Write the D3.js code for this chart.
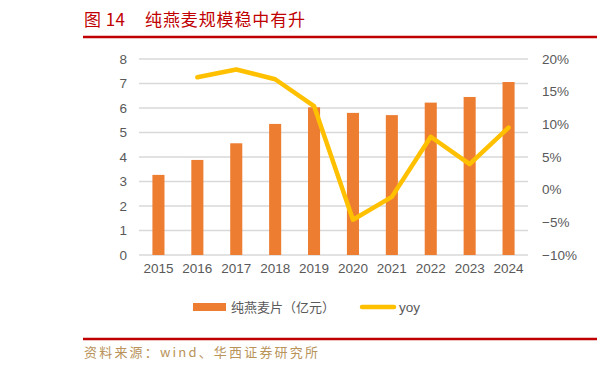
<!DOCTYPE html>
<html><head><meta charset="utf-8">
<script src="https://cdn.jsdelivr.net/npm/d3@7"></script>
<style>body{margin:0;background:#fff;}svg{display:block;}</style>
</head><body>
<svg id="c" width="597" height="371"></svg>
<script>
const categories = ["2015","2016","2017","2018","2019","2020","2021","2022","2023","2024"];
const barValues = [3.27,3.88,4.56,5.35,6.03,5.80,5.71,6.22,6.45,7.06];
const yoyValues = [null,17.2,18.4,16.9,12.8,-4.6,-1.1,8.1,3.9,9.5];
const leftTicks = [0,1,2,3,4,5,6,7,8];
const rightTicks = [-10,-5,0,5,10,15,20];
const barName = "纯燕麦片（亿元）";
const lineName = "yoy";
const title = "图 14";
const subtitle = "纯燕麦规模稳中有升";
const source = "资料来源：wind、华西证券研究所";

const svg = d3.select("#c");
const cjk = "'Noto Sans CJK SC','Noto Sans',sans-serif";
const latin = "'Liberation Sans','DejaVu Sans',sans-serif";
const L=139, R=528, T=59, B=255;
const x = d3.scaleBand().domain(categories).range([L,R]).paddingInner(0.69).paddingOuter(0.345);
const yL = d3.scaleLinear().domain([0,8]).range([B,T]);
const yR = d3.scaleLinear().domain([-10,20]).range([B,T]);

// title
svg.append("text").attr("x",84).attr("y",26).attr("fill","#c00000").attr("font-family",cjk).attr("font-size",17).attr("textLength",41).text(title);
svg.append("text").attr("x",145).attr("y",26).attr("fill","#c00000").attr("font-family",cjk).attr("font-size",17).attr("textLength",160).text(subtitle);
svg.append("line").attr("x1",83).attr("x2",597).attr("y1",37).attr("y2",37).attr("stroke","#c00000").attr("stroke-width",2.5);

// grid
svg.append("g").selectAll("line").data(leftTicks).join("line")
  .attr("x1",L).attr("x2",R).attr("y1",d=>yL(d)).attr("y2",d=>yL(d))
  .attr("stroke","#d9d9d9").attr("stroke-width",1.3);

// left axis
const ga = svg.append("g").attr("transform",`translate(${L},0)`)
  .call(d3.axisLeft(yL).tickValues(leftTicks).tickSize(0).tickPadding(12));
ga.select(".domain").remove();
ga.selectAll("text").attr("font-family",latin).attr("font-size",13.5).attr("fill","#595959");

// right axis
const gr = svg.append("g").attr("transform",`translate(${R},0)`)
  .call(d3.axisRight(yR).tickValues(rightTicks).tickSize(0).tickPadding(14).tickFormat(d=>(d<0?"\u2212"+(-d):d)+"%"));
gr.select(".domain").remove();
gr.selectAll("text").attr("font-family",latin).attr("font-size",13.5).attr("fill","#595959");

// bottom axis
const gb = svg.append("g").attr("transform",`translate(0,${B})`)
  .call(d3.axisBottom(x).tickSize(0).tickPadding(8));
gb.select(".domain").remove();
gb.selectAll("text").attr("font-family",latin).attr("font-size",13.5).attr("fill","#595959");

// bars
svg.append("g").selectAll("rect").data(barValues).join("rect")
  .attr("x",(d,i)=>x(categories[i])).attr("width",x.bandwidth())
  .attr("y",d=>yL(d)).attr("height",d=>B-yL(d)).attr("fill","#ed7d31");

// line
const line = d3.line().defined(d=>d!==null)
  .x((d,i)=>x(categories[i])+x.bandwidth()/2).y(d=>yR(d));
svg.append("path").datum(yoyValues).attr("d",line).attr("fill","none")
  .attr("stroke","#ffc000").attr("stroke-width",4.5).attr("stroke-linejoin","round").attr("stroke-linecap","round");

// legend
svg.append("rect").attr("x",193).attr("y",303).attr("width",33).attr("height",8).attr("fill","#ed7d31");
svg.append("text").attr("x",231).attr("y",312).attr("font-family",cjk).attr("font-size",13).attr("fill","#595959").attr("textLength",104).text(barName);
svg.append("line").attr("x1",362).attr("x2",394).attr("y1",307).attr("y2",307).attr("stroke","#ffc000").attr("stroke-width",4.5).attr("stroke-linecap","round");
svg.append("text").attr("x",399).attr("y",312).attr("font-family",latin).attr("font-size",13.5).attr("fill","#595959").text(lineName);

// footer
svg.append("line").attr("x1",83).attr("x2",597).attr("y1",339).attr("y2",339).attr("stroke","#c00000").attr("stroke-width",2.5);
svg.append("text").attr("x",84).attr("y",357).attr("font-family",cjk).attr("font-size",13).attr("fill","#b8935a").attr("textLength",234).text(source);
</script>
</body></html>
